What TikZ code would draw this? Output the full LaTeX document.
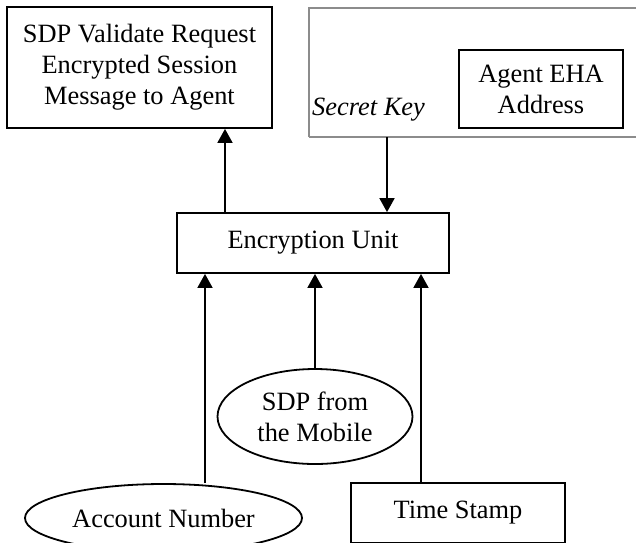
\documentclass[tikz,border=0pt]{standalone}
\usepackage{fontspec}
\setmainfont{Liberation Serif}
\usetikzlibrary{arrows.meta,shapes.geometric}

\tikzset{
  lbl/.style={font=\fontsize{26.4}{31}\selectfont, align=center, inner sep=0pt},
  boxed/.style={lbl, draw, line width=1.8pt, rectangle},
  oval/.style={lbl, draw, line width=1.8pt, ellipse},
  arr/.style={line width=1.8pt, -{Triangle[width=15pt,length=14pt]}},
  plain/.style={line width=1.8pt}
}

\begin{document}
\begin{tikzpicture}[x=1pt,y=-1pt]
  \useasboundingbox (0,0) rectangle (636,542);
  \clip (0,0) rectangle (636,542);

  % output message
  \node[boxed, minimum width=265pt, minimum height=121pt] (msg) at (139.5,67.5)
    {SDP Validate Request\\Encrypted Session\\Message to Agent};

  % key store panel (runs off the right edge)
  \draw[line width=1.8pt, draw=black!45] (309,137) -- (309,8) -- (660,8)
        (309,137) -- (660,137);
  \coordinate (keybot) at (387,137);
  \node[lbl, anchor=base west, font=\fontsize{26.4}{31}\selectfont\itshape] (key) at (312,115) {Secret Key};
  \node[boxed, minimum width=164pt, minimum height=78pt] (eha) at (541,89)
    {Agent EHA\\Address};

  % central unit
  \node[boxed, minimum width=272pt, minimum height=60pt] (enc) at (313,243)
    {Encryption Unit};

  % inputs
  \node[oval, minimum width=195pt, minimum height=95pt] (sdp) at (315,416.5)
    {SDP from\\the Mobile};
  \node[oval, minimum width=277pt, minimum height=68pt] (acc) at (163.5,518)
    {Account Number};
  \node[boxed, minimum width=214pt, minimum height=60pt] (ts) at (458,513)
    {Time Stamp};

  % connectors
  \draw[arr] (enc.north -| 225,0) -- (msg.south -| 225,0);
  \draw[arr] (keybot) -- (enc.north -| keybot);
  \draw[arr] (acc.north -| 205,0) -- (enc.south -| 205,0);
  \draw[arr] (sdp.north) -- (enc.south -| sdp.north);
  \draw[arr] (ts.north -| 421,0) -- (enc.south -| 421,0);
\end{tikzpicture}
\end{document}
